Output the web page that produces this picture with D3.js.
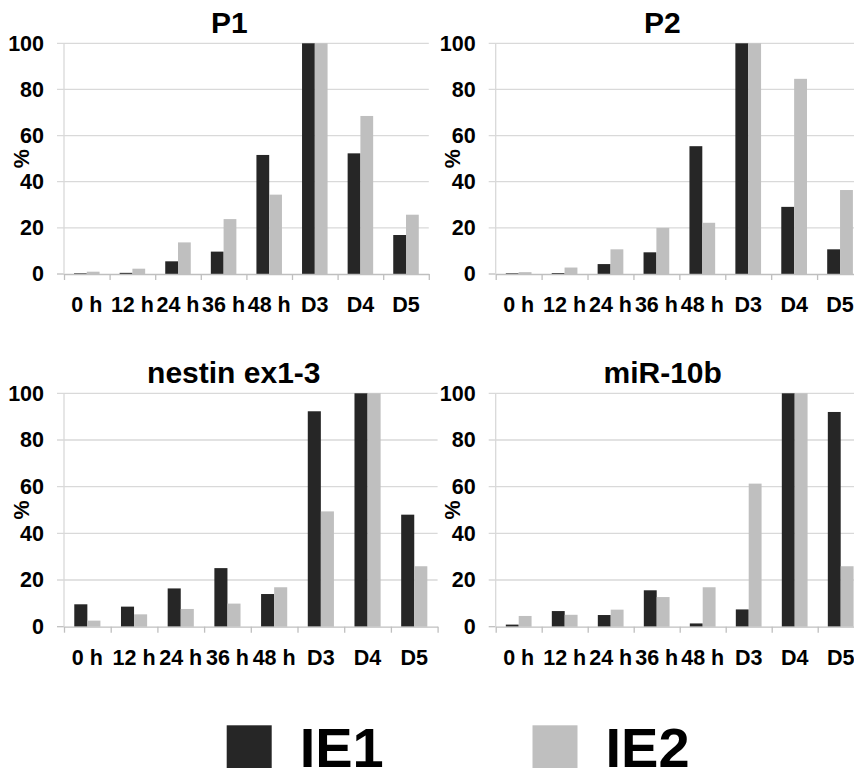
<!DOCTYPE html>
<html><head><meta charset="utf-8">
<script src="https://cdn.jsdelivr.net/npm/d3@7"></script>
<style>
body{margin:0;background:#fff}
svg{display:block}
text{font-family:"Liberation Sans",Arial,Helvetica,sans-serif;font-weight:bold;fill:#000}
</style>
</head><body>
<svg id="c" width="854" height="768"></svg>
<script>
const categories = ["0 h","12 h","24 h","36 h","48 h","D3","D4","D5"];
const series = ["IE1","IE2"];
const yTicks = [0,20,40,60,80,100];
const panelTitles = ["P1","P2","nestin ex1-3","miR-10b"];
const p1IE1 = [0.3,0.5,5.5,9.7,51.6,100,52.3,16.9];
const p1IE2 = [1.0,2.3,13.7,23.8,34.4,100,68.5,25.7];
const p2IE1 = [0.3,0.4,4.3,9.4,55.4,100,29.1,10.7];
const p2IE2 = [0.8,2.8,10.7,20.0,22.2,100,84.6,36.4];
const nesIE1 = [9.6,8.6,16.4,25.1,14.0,92.3,100,48.0];
const nesIE2 = [2.6,5.3,7.6,9.9,16.9,49.4,100,25.9];
const mirIE1 = [0.9,6.7,5.0,15.6,1.4,7.4,100,92.0];
const mirIE2 = [4.6,5.1,7.3,12.7,16.9,61.3,100,25.9];
const colors = ["#262626","#bfbfbf"];

const svg = d3.select("#c");
const panels = [
  {title: panelTitles[0], data:[p1IE1,p1IE2], x0:64, x1:428.8, yTop:43.3, yBot:274},
  {title: panelTitles[1], data:[p2IE1,p2IE2], x0:495.7, x1:863, yTop:43.3, yBot:274},
  {title: panelTitles[2], data:[nesIE1,nesIE2], x0:64, x1:437.6, yTop:393.3, yBot:626.7},
  {title: panelTitles[3], data:[mirIE1,mirIE2], x0:495.7, x1:863.7, yTop:393.3, yBot:626.7}
];
const tickFont = "21.5px";

panels.forEach(p => {
  const g = svg.append("g");
  const x = d3.scaleBand().domain(categories).range([p.x0, p.x1]).padding(0);
  const xs = d3.scaleBand().domain(series).range([0, x.bandwidth()]).paddingInner(0).paddingOuter(0.786);
  const y = d3.scaleLinear().domain([0,100]).range([p.yBot, p.yTop]);
  const b = d3.scaleLinear().domain([0, categories.length]).range([p.x0, p.x1]);

  // gridlines
  g.append("g").selectAll("line").data(yTicks.filter(t => t > 0)).join("line")
    .attr("x1", p.x0 - 7).attr("x2", p.x1)
    .attr("y1", d => y(d)).attr("y2", d => y(d))
    .attr("stroke", "#d9d9d9").attr("stroke-width", 1.3);
  g.append("line").attr("x1", p.x0 - 7).attr("x2", p.x0).attr("y1", y(0)).attr("y2", y(0))
    .attr("stroke", "#bfbfbf").attr("stroke-width", 1.3);
  g.append("line").attr("x1", p.x0).attr("x2", p.x0).attr("y1", p.yTop).attr("y2", p.yBot)
    .attr("stroke", "#d9d9d9").attr("stroke-width", 1.3);

  // y labels
  const ya = g.append("g").attr("transform", `translate(${p.x0},0)`)
    .call(d3.axisLeft(y).tickValues(yTicks).tickSize(0).tickPadding(20));
  ya.select(".domain").remove();
  ya.selectAll("text").style("font-size", tickFont).style("font-family", "'Liberation Sans',Arial,sans-serif").style("font-weight", "bold");

  // bars
  p.data.forEach((vals, si) => {
    g.append("g").selectAll("rect").data(vals).join("rect")
      .attr("x", (d, i) => x(categories[i]) + xs(series[si]))
      .attr("width", xs.bandwidth())
      .attr("y", d => y(d))
      .attr("height", d => y(0) - y(d))
      .attr("fill", colors[si]);
  });

  // bottom axis with boundary ticks
  const ba = g.append("g").attr("transform", `translate(0,${p.yBot})`)
    .call(d3.axisBottom(b).tickValues(d3.range(categories.length + 1)).tickSizeInner(6).tickSizeOuter(0).tickFormat(""));
  ba.select(".domain").attr("stroke", "#bfbfbf").attr("stroke-width", 1.3);
  ba.selectAll(".tick line").attr("stroke", "#bfbfbf").attr("stroke-width", 1.3);

  // category labels
  const ca = g.append("g").attr("transform", `translate(0,${p.yBot})`)
    .call(d3.axisBottom(x).tickSize(0).tickPadding(23));
  ca.select(".domain").remove();
  ca.selectAll("text").style("font-size", tickFont).style("font-family", "'Liberation Sans',Arial,sans-serif").style("font-weight", "bold");

  // y title
  g.append("text")
    .attr("transform", `translate(${p.x0 - 43},${(p.yTop + p.yBot) / 2}) rotate(-90)`)
    .attr("text-anchor", "middle").attr("dy", "0.35em")
    .style("font-size", tickFont).text("%");

  // panel title
  g.append("text")
    .attr("x", (p.x0 + p.x1) / 2 - 17).attr("y", p.yTop - 10)
    .attr("text-anchor", "middle")
    .style("font-size", "30px").text(p.title);
});

// legend
const legendX = [226.7, 532.5];
const lg = svg.append("g");
series.forEach((s, i) => {
  lg.append("rect").attr("x", legendX[i]).attr("y", 725.3).attr("width", 45).attr("height", 45).attr("fill", colors[i]);
  lg.append("text").attr("x", legendX[i] + 73).attr("y", 767)
    .style("font-size", "56px").text(s);
});
</script>
</body></html>
